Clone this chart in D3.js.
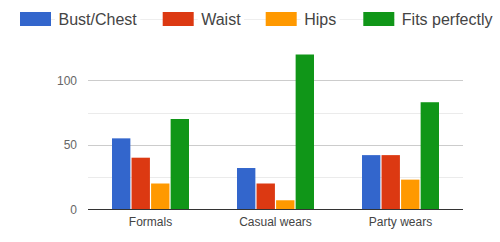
<!DOCTYPE html>
<html>
<head>
<meta charset="utf-8">
<script src="https://cdn.jsdelivr.net/npm/d3@7"></script>
<style>
  body { margin: 0; background: #fff; }
  svg { display: block; font-family: "Liberation Sans", Arial, sans-serif; }
</style>
</head>
<body>
<svg id="chart" width="500" height="242"></svg>
<script>
// data
const categories = ["Formals", "Casual wears", "Party wears"];
const seriesNames = ["Bust/Chest", "Waist", "Hips", "Fits perfectly"];
const bustChest = [55, 32, 42];
const waist = [40, 20, 42];
const hips = [20, 7, 23];
const fitsPerfectly = [70, 120, 83];
const yTicks = [0, 50, 100];
const yMinorTicks = [25, 75];
const colors = ["#3366cc", "#dc3912", "#ff9900", "#109618"];

const values = [bustChest, waist, hips, fitsPerfectly];
const rows = categories.map((c, i) => ({
  cat: c,
  vals: seriesNames.map((s, j) => ({ key: s, value: values[j][i], color: colors[j] }))
}));

const svg = d3.select("#chart");
const margin = { top: 80, right: 37, bottom: 33, left: 88 };
const width = 500 - margin.left - margin.right;
const plotBottom = 209.3;

const y = d3.scaleLinear().domain([0, 100]).range([plotBottom, 80.3]);

const x0 = d3.scaleBand()
  .domain(categories)
  .range([margin.left, margin.left + width])
  .paddingInner(0.384)
  .paddingOuter(0.192);

const x1 = d3.scaleBand()
  .domain(seriesNames)
  .range([0, x0.bandwidth()])
  .paddingInner(0.06);

// gridlines
svg.append("g").selectAll("line")
  .data(yMinorTicks)
  .join("line")
  .attr("x1", margin.left).attr("x2", margin.left + width)
  .attr("y1", d => Math.round(y(d)) + 0.5).attr("y2", d => Math.round(y(d)) + 0.5)
  .attr("stroke", "#ebebeb");

svg.append("g").selectAll("line")
  .data(yTicks.filter(d => d !== 0))
  .join("line")
  .attr("x1", margin.left).attr("x2", margin.left + width)
  .attr("y1", d => Math.round(y(d)) + 0.5).attr("y2", d => Math.round(y(d)) + 0.5)
  .attr("stroke", "#cccccc");

// y tick labels
svg.append("g").selectAll("text")
  .data(yTicks)
  .join("text")
  .attr("x", 77)
  .attr("y", d => y(d))
  .attr("dy", "0.35em")
  .attr("text-anchor", "end")
  .attr("font-size", 12)
  .attr("fill", "#666")
  .text(d => d);

// bars
svg.append("g").selectAll("g")
  .data(rows)
  .join("g")
  .attr("transform", d => `translate(${x0(d.cat)},0)`)
  .selectAll("rect")
  .data(d => d.vals)
  .join("rect")
  .attr("x", d => x1(d.key))
  .attr("width", x1.bandwidth())
  .attr("y", d => y(d.value))
  .attr("height", d => y(0) - y(d.value))
  .attr("fill", d => d.color);

// baseline
svg.append("line")
  .attr("x1", margin.left).attr("x2", margin.left + width)
  .attr("y1", Math.round(y(0)) + 0.5).attr("y2", Math.round(y(0)) + 0.5)
  .attr("stroke", "#333");

// x labels
svg.append("g").selectAll("text")
  .data(categories)
  .join("text")
  .attr("x", d => x0(d) + x0.bandwidth() / 2)
  .attr("y", 222)
  .attr("dy", "0.35em")
  .attr("text-anchor", "middle")
  .attr("font-size", 12)
  .attr("fill", "#444")
  .text(d => d);

// legend
const legendX = [20, 162.7, 265.7, 363.3];
const legendY = 19;
const legend = svg.append("g");
legend.append("line")
  .attr("x1", 20).attr("x2", 395)
  .attr("y1", legendY + 0.5).attr("y2", legendY + 0.5)
  .attr("stroke", "#eeeeee");
const items = legend.selectAll("g")
  .data(seriesNames)
  .join("g")
  .attr("transform", (d, i) => `translate(${legendX[i]},0)`);
items.append("rect")
  .attr("x", -3).attr("width", d => 0)
  .attr("fill", "#fff");
items.append("rect")
  .attr("y", legendY - 7)
  .attr("width", 31)
  .attr("height", 14)
  .attr("fill", (d, i) => colors[i]);
items.append("text")
  .attr("x", 38.5)
  .attr("y", legendY)
  .attr("dy", "0.35em")
  .attr("font-size", 16)
  .attr("fill", "#444")
  .text(d => d)
  .each(function () {
    const w = this.getComputedTextLength();
    d3.select(this.parentNode).insert("rect", "rect")
      .attr("x", 35).attr("y", legendY - 10)
      .attr("width", w + 7).attr("height", 20)
      .attr("fill", "#fff");
  });
</script>
</body>
</html>
